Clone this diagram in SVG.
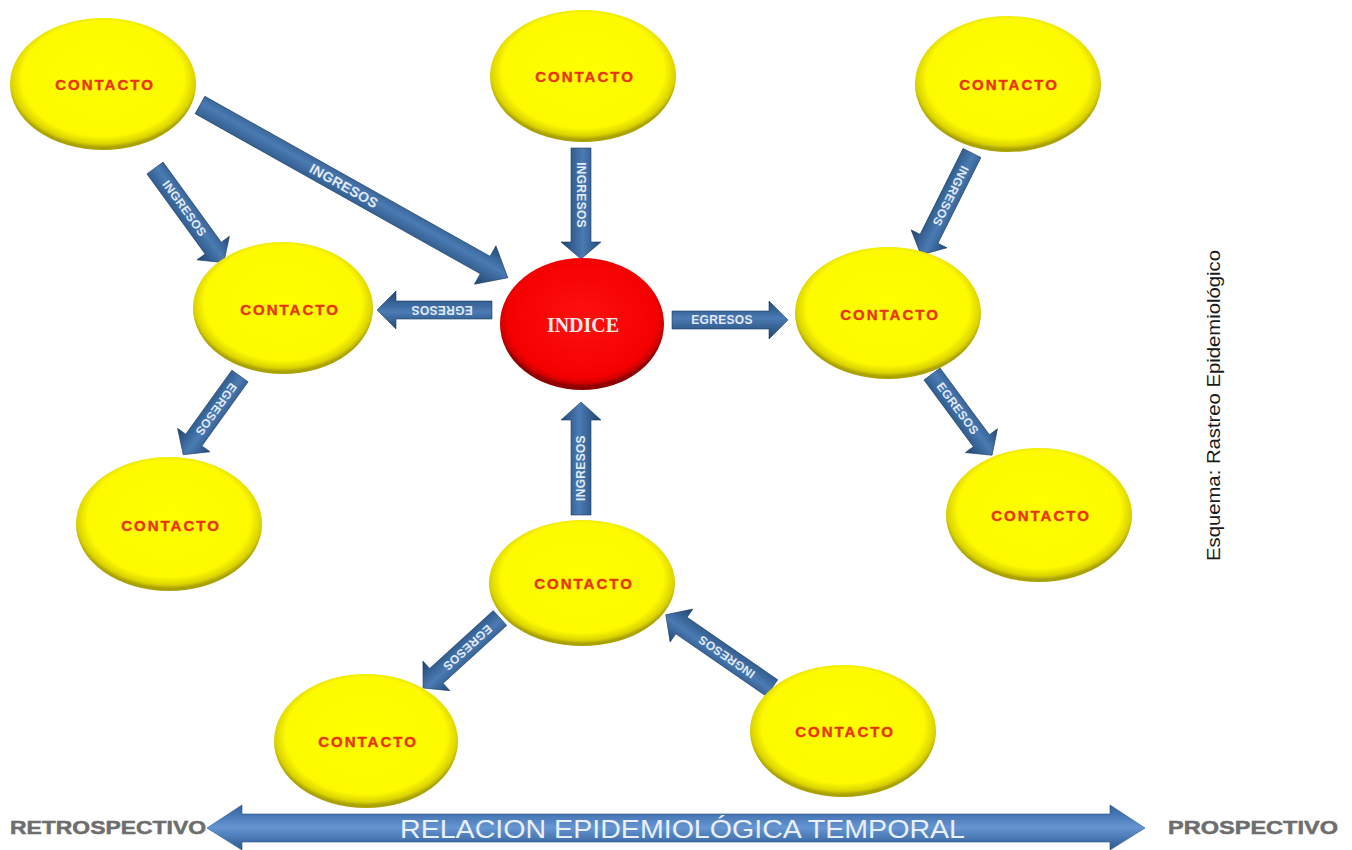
<svg xmlns="http://www.w3.org/2000/svg" width="1352" height="850" viewBox="0 0 1352 850">
<defs>
<radialGradient id="gy" cx="50%" cy="46%" r="52%">
<stop offset="0" stop-color="#ffff00"/>
<stop offset="0.84" stop-color="#fdfa00"/>
<stop offset="0.95" stop-color="#dcd400"/>
<stop offset="1" stop-color="#aaa200"/>
</radialGradient>
<radialGradient id="gr" cx="50%" cy="45%" r="52%">
<stop offset="0" stop-color="#ff1010"/>
<stop offset="0.88" stop-color="#f40000"/>
<stop offset="0.96" stop-color="#d00000"/>
<stop offset="1" stop-color="#900000"/>
</radialGradient>
<linearGradient id="gb" x1="0" y1="0" x2="0" y2="1">
<stop offset="0" stop-color="#234a78"/>
<stop offset="0.45" stop-color="#4a7bb3"/>
<stop offset="1" stop-color="#1f4470"/>
</linearGradient>
<linearGradient id="gbig" x1="0" y1="0" x2="0" y2="1">
<stop offset="0" stop-color="#2e5f9e"/>
<stop offset="0.5" stop-color="#6596d2"/>
<stop offset="1" stop-color="#2a578f"/>
</linearGradient>
</defs>
<style>
.c{fill:url(#gy)}
.ct{font-family:"Liberation Sans",Arial,sans-serif;font-weight:bold;font-size:15px;letter-spacing:2px;fill:#e8340a;text-anchor:middle;dominant-baseline:central;stroke:#e8340a;stroke-width:0.4}
.arr{fill:url(#gb);stroke:#1d3d63;stroke-width:0.6}
.al{font-family:"Liberation Sans Narrow","Liberation Sans",Arial,sans-serif;font-size:12px;font-weight:bold;fill:#e2eaf3;text-anchor:middle;dominant-baseline:central;letter-spacing:0.3px}
.side{font-family:"Liberation Sans Narrow","Liberation Sans",Arial,sans-serif;font-weight:bold;font-size:19px;fill:#6e6e6e;dominant-baseline:central;stroke:#6e6e6e;stroke-width:0.5}
</style>
<rect width="1352" height="850" fill="#ffffff"/>

<g id="connectors">
<g transform="translate(200,105) rotate(29.3)"><path class="arr" d="M0,-10 H327 V-22 L353,0 L327,22 V10 H0 Z"/><text class="al" x="165" y="0" style="font-size:14px">INGRESOS</text></g>
<g transform="translate(155,168) rotate(54)"><path class="arr" d="M0,-10 H99 V-20 L117,0 L99,20 V10 H0 Z"/><text class="al" x="50" y="0">INGRESOS</text></g>
<g transform="translate(581,148) rotate(90)"><path class="arr" d="M0,-10 H94 V-20 L111,0 L94,20 V10 H0 Z"/><text class="al" x="47" y="0">INGRESOS</text></g>
<g transform="translate(972,153) rotate(116.6)"><path class="arr" d="M0,-10 H96 V-20 L114,0 L96,20 V10 H0 Z"/><text class="al" x="48" y="0">INGRESOS</text></g>
<g transform="translate(492,310) rotate(180)"><path class="arr" d="M0,-9 H96 V-19 L115,0 L96,19 V9 H0 Z"/><text class="al" x="50" y="0">EGRESOS</text></g>
<g transform="translate(672,320)"><path class="arr" d="M0,-9 H97 V-19 L116,0 L97,19 V9 H0 Z"/><text class="al" x="50" y="0">EGRESOS</text></g>
<g transform="translate(240,376) rotate(125.8)"><path class="arr" d="M0,-10 H79 V-20 L97,0 L79,20 V10 H0 Z"/><text class="al" x="41" y="0">EGRESOS</text></g>
<g transform="translate(932,374) rotate(53.5)"><path class="arr" d="M0,-10 H83 V-20 L101,0 L83,20 V10 H0 Z"/><text class="al" x="43" y="0">EGRESOS</text></g>
<g transform="translate(581,515) rotate(-90)"><path class="arr" d="M0,-10 H95 V-20 L113,0 L95,20 V10 H0 Z"/><text class="al" x="47" y="0">INGRESOS</text></g>
<g transform="translate(500,618) rotate(137.7)"><path class="arr" d="M0,-10 H86 V-20 L104,0 L86,20 V10 H0 Z"/><text class="al" x="44" y="0">EGRESOS</text></g>
<g transform="translate(772,688) rotate(-145.4)"><path class="arr" d="M0,-10 H110 V-20 L129,0 L110,20 V10 H0 Z"/><text class="al" x="55" y="0">INGRESOS</text></g>
</g>

<g id="n1"><ellipse class="c" cx="103" cy="84" rx="93" ry="66"/><text class="ct" x="105" y="84">CONTACTO</text></g>
<g id="n2"><ellipse class="c" cx="583" cy="76" rx="93" ry="66"/><text class="ct" x="585" y="76">CONTACTO</text></g>
<g id="n3"><ellipse class="c" cx="1008" cy="84" rx="93" ry="68"/><text class="ct" x="1009" y="84">CONTACTO</text></g>
<g id="n4"><ellipse class="c" cx="283" cy="308" rx="90" ry="66"/><text class="ct" x="290" y="309">CONTACTO</text></g>
<g id="indice"><ellipse fill="url(#gr)" cx="582" cy="324" rx="82" ry="66"/><text x="583" y="325" font-family="'Liberation Serif','Times New Roman',serif" font-weight="bold" font-size="20" fill="#f4eaea" text-anchor="middle" dominant-baseline="central">INDICE</text></g>
<g id="n5"><ellipse class="c" cx="888" cy="313" rx="93" ry="66"/><text class="ct" x="890" y="314">CONTACTO</text></g>
<g id="n6"><ellipse class="c" cx="169" cy="524" rx="93" ry="67"/><text class="ct" x="171" y="525">CONTACTO</text></g>
<g id="n7"><ellipse class="c" cx="1039" cy="515" rx="93" ry="67"/><text class="ct" x="1041" y="515">CONTACTO</text></g>
<g id="n8"><ellipse class="c" cx="582" cy="583" rx="93" ry="63"/><text class="ct" x="584" y="583">CONTACTO</text></g>
<g id="n9"><ellipse class="c" cx="366" cy="741" rx="92" ry="67"/><text class="ct" x="368" y="741">CONTACTO</text></g>
<g id="n10"><ellipse class="c" cx="843" cy="731" rx="93" ry="66"/><text class="ct" x="845" y="731">CONTACTO</text></g>

<g id="timeline">
<path fill="url(#gbig)" stroke="#2a5288" stroke-width="0.6" d="M207,828 L242,805 V814 H1110 V805 L1145,828 L1110,850 V842 H242 V850 Z"/>
<text x="400" y="829" textLength="565" lengthAdjust="spacingAndGlyphs" font-family="'Liberation Sans Narrow','Liberation Sans',Arial,sans-serif" font-size="25" fill="#e9eff7" dominant-baseline="central">RELACION EPIDEMIOLÓGICA TEMPORAL</text>
<text class="side" x="10" y="827" textLength="196" lengthAdjust="spacingAndGlyphs">RETROSPECTIVO</text>
<text class="side" x="1168" y="827" textLength="170" lengthAdjust="spacingAndGlyphs">PROSPECTIVO</text>
</g>

<g id="title">
<text transform="translate(1220,561) rotate(-90)" x="0" y="0" textLength="311" lengthAdjust="spacingAndGlyphs" font-family="'Liberation Sans',Arial,sans-serif" font-size="18" fill="#1a1a1a">Esquema: Rastreo Epidemiológico</text>
</g>
</svg>
